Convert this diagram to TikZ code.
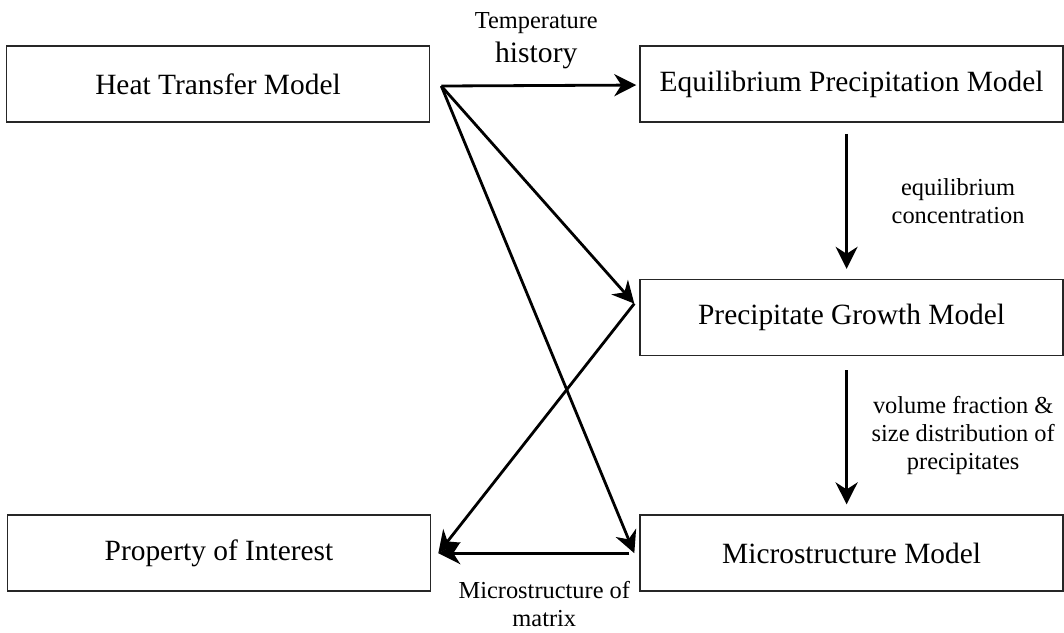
\documentclass[tikz,border=0pt]{standalone}
\usepackage{fontspec}
\setmainfont{Liberation Serif}
\usepackage{tikz}
\usetikzlibrary{arrows.meta, positioning}
\tikzstyle{model} = [rectangle, minimum width=211.5pt, minimum height=38pt, text centered, draw=black!85, line width=0.8pt, font=\fontsize{14.7}{17}\selectfont]
\tikzstyle{arrow} = [line width=1.4pt, -{Stealth[length=11pt, width=11pt, inset=3.5pt]}]
\tikzstyle{note} = [align=center, font=\fontsize{12.2}{14}\selectfont]

\begin{document}
\begin{tikzpicture}[x=0.5pt, y=0.5pt]
\useasboundingbox (0,0) rectangle (1064,-632);
\node(heat) [model] at (218,-84) {Heat Transfer Model};
\node(equil) [model, right=104.5pt of heat] {Equilibrium Precipitation Model};
\node(growth) [model, below=78pt of equil] {Precipitate Growth Model};
\node(micro) [model, below=79pt of growth] {Microstructure Model};
\node(prop) [model, left=104pt of micro] {Property of Interest};

\coordinate(hub) at ([xshift=5.5pt, yshift=-1pt]heat.east);
\coordinate(growth_in) at ([xshift=-2.5pt, yshift=7pt]growth.west);
\coordinate(micro_in) at ([xshift=-2.5pt]micro.west);
\coordinate(prop_in) at ([xshift=3.5pt]prop.east);

\draw[arrow, shorten >=1.5pt] (hub) -- node[note, above=4.5pt, xshift=-2pt] {Temperature\\[3pt]{\fontsize{14.8}{17}\selectfont history}} (equil);
\draw[arrow] (hub) -- (growth_in);
\draw[arrow] (hub) -- (micro_in);
\draw[arrow] (growth_in) -- (prop_in);
\draw[arrow, shorten <=2.5pt] (micro_in) -- node[note, below=10pt, xshift=4pt] {Microstructure of\\matrix} (prop_in);
\draw[arrow, shorten <=5.5pt, shorten >=5pt] ([xshift=-2.5pt]equil.south) -- node[note, right=18.5pt] {equilibrium\\concentration} ([xshift=-2.5pt]growth.north);
\draw[arrow, shorten <=7pt, shorten >=5pt] ([xshift=-2.5pt]growth.south) -- node[note, right=8.5pt] {volume fraction \&\\size distribution of\\precipitates} ([xshift=-2.5pt]micro.north);
\end{tikzpicture}
\end{document}
